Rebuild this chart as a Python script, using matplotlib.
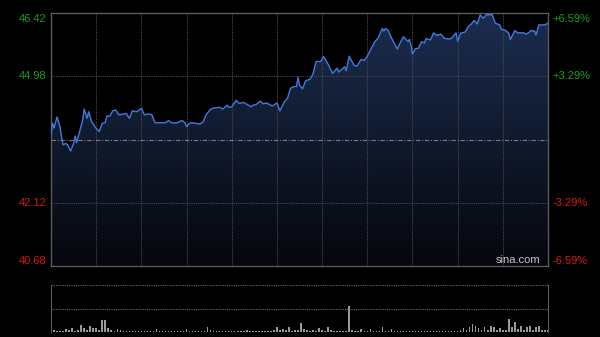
import numpy as np
import matplotlib
matplotlib.use("Agg")
import matplotlib.pyplot as plt
from matplotlib.colors import LinearSegmentedColormap

plt.rcParams['font.family'] = ['Liberation Sans', 'DejaVu Sans']

# intraday price, minutes from open (HK session, 330 min)
minutes = [0, 1, 2, 4, 6, 7, 8, 10, 11, 13, 15, 16, 17, 19, 21, 22, 24, 25, 27, 30,
           32, 34, 36, 37, 39, 41, 43, 45, 49, 50, 52, 54, 57, 60, 62, 65, 67, 69, 76, 78,
           80, 83, 87, 89, 90, 92, 94, 99, 101, 103, 106, 109, 112, 114, 117, 118, 120, 123, 125, 128,
           130, 133, 134, 136, 139, 141, 143, 147, 150, 152, 155, 157, 159, 161, 163, 164, 165, 167, 169, 172,
           174, 176, 179, 181, 184, 187, 190, 191, 195, 196, 198, 201, 203, 206, 208, 210, 213, 215, 217, 220,
           221, 222, 224, 226, 230, 231, 234, 236, 237, 238, 239, 240, 242, 244, 246, 248, 249, 252, 254, 256,
           259, 261, 264, 266, 269, 270, 272, 275, 277, 279, 281, 283, 285, 287, 289, 293, 295, 298, 299, 302,
           304, 305, 308, 310, 314, 315, 317, 319, 320, 321, 322, 324, 328, 330]
prices = [43.65, 43.92, 43.81, 44.06, 43.84, 43.61, 43.43, 43.46, 43.43, 43.29, 43.46, 43.63, 43.48, 43.73, 43.99, 44.24, 44.03, 44.18, 43.95, 43.80,
          43.73, 43.92, 43.93, 44.08, 44.08, 44.20, 44.22, 44.11, 44.13, 44.14, 44.03, 44.20, 44.18, 44.26, 44.11, 44.13, 44.11, 43.93, 43.93, 43.98,
          43.93, 43.92, 43.98, 43.93, 43.84, 43.92, 43.93, 43.90, 43.95, 44.11, 44.24, 44.27, 44.28, 44.24, 44.33, 44.28, 44.29, 44.44, 44.37, 44.39,
          44.35, 44.29, 44.33, 44.34, 44.42, 44.36, 44.38, 44.31, 44.38, 44.20, 44.41, 44.48, 44.71, 44.75, 44.75, 44.96, 44.79, 44.70, 44.88, 44.92,
          45.04, 45.32, 45.32, 45.43, 45.26, 45.05, 45.17, 45.08, 45.20, 45.11, 45.44, 45.24, 45.21, 45.37, 45.34, 45.44, 45.64, 45.77, 45.84, 46.07,
          46.01, 46.07, 46.02, 45.86, 45.60, 45.69, 45.88, 45.81, 45.77, 45.82, 45.69, 45.49, 45.61, 45.62, 45.77, 45.74, 45.84, 45.81, 45.97, 45.91,
          45.94, 45.85, 45.83, 45.85, 45.97, 45.78, 45.96, 45.99, 46.11, 46.17, 46.25, 46.17, 46.38, 46.30, 46.38, 46.38, 46.19, 46.15, 46.05, 46.02,
          45.96, 45.82, 46.02, 45.97, 45.97, 45.94, 45.97, 46.03, 46.00, 46.02, 45.92, 46.15, 46.15, 46.19]

prev_close = 43.55
price_ticks = [40.68, 42.12, 44.98, 46.42]
pct_labels = ['-6.59%', '-3.29%', '+3.29%', '+6.59%']

# volume every 2 minutes
vol_minutes = list(range(0, 331, 2))
volumes = [11, 2, 1.5, 1, 1.5, 3, 2, 4, 1.5, 2,
           7, 4, 2, 6, 4, 4, 2, 12.5, 12, 4,
           2, 1.5, 3, 2, 1.5, 1, 1.5, 1, 1, 1.5,
           1, 1, 1.5, 1, 1, 3, 1.5, 1, 1, 1,
           1.5, 1, 1, 1, 1.5, 3, 1, 1, 1.5, 1,
           1, 1.5, 5, 2, 1.5, 1, 1, 1.5, 1, 1,
           1, 1.5, 1, 1, 1.5, 2.5, 1, 1, 1.5, 1,
           1, 1, 1.5, 1, 2, 5, 2, 3, 2, 5,
           1.5, 2, 2, 9, 3, 2, 1.5, 2, 1.5, 4,
           2, 1.5, 5, 2, 1.5, 1, 1.5, 1, 1.5, 26,
           2, 1.5, 1, 3, 1.5, 1, 3, 1.5, 1, 1.5,
           5, 1.5, 1, 3, 1.5, 1, 1, 1.5, 1, 1,
           1.5, 1, 1, 1, 1.5, 1, 1, 1.5, 1, 1,
           1, 1.5, 1, 1, 1.5, 1, 2, 4, 2, 5,
           8, 6, 4, 2.5, 5, 2, 6, 5, 2.5, 4,
           2, 2.5, 13, 5, 10, 3, 6, 2.5, 5, 6,
           2.5, 5, 6, 2.5, 2, 2]
vol_max = 47

bg = '#000000'
edge = '#5a5a5a'
grid_c = '#4a4a4a'
green = '#1e9e1e'
red = '#d41a1a'

fig = plt.figure(figsize=(6, 3.37), dpi=100, facecolor=bg)
ax = fig.add_axes([51/600, 1-266/337, 497/600, 253/337], facecolor=bg)
axv = fig.add_axes([51/600, 1-332/337, 497/600, 47/337], facecolor=bg)

ax.set_xlim(0, 330)
ax.set_ylim(price_ticks[0], price_ticks[-1])

# gradient fill under the price line
poly = ax.fill_between(minutes, prices, price_ticks[0], color='none', lw=0)
cmap = LinearSegmentedColormap.from_list('g', ['#05070c', '#1c2d50'])
grad = np.linspace(0, 1, 256).reshape(-1, 1)
im = ax.imshow(grad, cmap=cmap, aspect='auto', origin='lower',
               extent=[0, 330, price_ticks[0], price_ticks[-1]], zorder=1)
path = poly.get_paths()[0]
im.set_clip_path(path, transform=ax.transData)
ax.plot(minutes, prices, color='#4479dc', lw=1.0, zorder=3)

for m in range(30, 330, 30):
    ax.axvline(m, color=grid_c, lw=0.8, ls=(0, (1, 1)), zorder=2)
for p in [price_ticks[1], price_ticks[2]]:
    ax.axhline(p, color=grid_c, lw=0.8, ls=(0, (1, 1)), zorder=2)
ax.axhline(prev_close, color='#7a7a7a', lw=0.8, ls=(0, (4, 1.5, 1, 1.5)), zorder=2)

for s in ax.spines.values():
    s.set_color(edge)
    s.set_linewidth(1)
ax.set_xticks([])
ax.set_yticks([])

label_y = [40.80, 42.12, 44.98, 46.28]
for i, p in enumerate(price_ticks):
    c = green if p > prev_close else red
    ax.text(-3, label_y[i], f'{p:.2f}', color=c, fontsize=8, ha='right', va='center',
            transform=ax.transData, clip_on=False)
    ax.text(333, label_y[i], pct_labels[i], color=c, fontsize=8, ha='left', va='center',
            transform=ax.transData, clip_on=False)

ax.text(0.94, 0.004, 'sina.com', color='#c8c8c8', fontsize=8, ha='center', va='bottom',
        transform=ax.transAxes, zorder=4)

# volume panel
axv.set_xlim(0, 330)
axv.set_ylim(0, vol_max)
axv.bar(vol_minutes, volumes, width=1.0, color='#9a9a9a', lw=0)
for v in [vol_max / 2, vol_max - 0.3]:
    axv.axhline(v, color='#6a6a6a', lw=0.8, ls=(0, (1, 1)))
axv.axhline(0.3, color='#6a6a6a', lw=0.8, ls=(0, (1, 1)))
for k in ['top', 'bottom']:
    axv.spines[k].set_visible(False)
for k in ['left', 'right']:
    axv.spines[k].set_color(edge)
axv.set_xticks([])
axv.set_yticks([])

fig.savefig('out.png', dpi=100, facecolor=bg)
